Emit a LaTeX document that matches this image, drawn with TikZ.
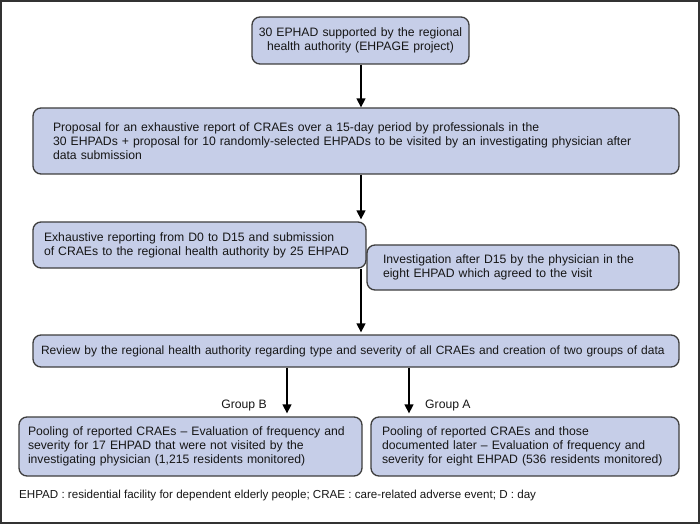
\documentclass[tikz,border=0pt]{standalone}
\usepackage{fontspec}
\setmainfont{Liberation Sans}
\usetikzlibrary{arrows.meta}
\definecolor{boxfill}{RGB}{198,206,232}
\definecolor{boxline}{RGB}{62,62,62}
\definecolor{txt}{RGB}{22,22,22}
\definecolor{framecol}{RGB}{50,50,50}
\begin{document}
\begin{tikzpicture}[x=1pt,y=-1pt,
  font=\fontsize{12.2}{14}\selectfont,
  box/.style={draw=boxline, line width=1.3pt, fill=boxfill, rounded corners=8pt,
    text=txt, inner ysep=0pt, anchor=center},
  arr/.style={draw=black, line width=1.4pt, -{Triangle[width=9pt,length=9pt]}},
  lab/.style={inner sep=0pt, text=txt}]
\useasboundingbox (0,0) rectangle (700,526);
\draw[framecol, line width=1.4pt] (1,1) rectangle (699,523);

\node[box, minimum width=217pt, minimum height=47pt, text width=205pt, inner xsep=6pt, align=center] (b1) at (360.5,40.5)
  {\mbox{30 EPHAD supported by the regional}\\\mbox{health authority (EHPAGE project)}};
\node[box, minimum width=646pt, minimum height=66pt, text width=606pt, inner xsep=20pt, align=left] (b2) at (356,141)
  {\mbox{Proposal for an exhaustive report of CRAEs over a 15-day period by professionals in the}\\\mbox{30 EHPADs + proposal for 10 randomly-selected EHPADs to be visited by an investigating physician after}\\\mbox{data submission}};
\node[box, minimum width=333pt, minimum height=46pt, text width=311pt, inner xsep=11pt, align=left] (b3) at (199.5,245)
  {\mbox{Exhaustive reporting from D0 to D15 and submission}\\\mbox{of CRAEs to the regional health authority by 25 EHPAD}};
\node[box, minimum width=312pt, minimum height=45pt, text width=280pt, inner xsep=16pt, align=left] (b4) at (523,267.5)
  {\mbox{Investigation after D15 by the physician in the}\\\mbox{eight EHPAD which agreed to the visit}};
\node[box, minimum width=646pt, minimum height=32pt, text width=630pt, inner xsep=8pt, align=left,
  font=\fontsize{12}{14}\selectfont] (b5) at (356,351)
  {\mbox{Review by the regional health authority regarding type and severity of all CRAEs and creation of two groups of data}};
\node[box, minimum width=343pt, minimum height=59pt, text width=325pt, inner xsep=9pt, align=left] (b6) at (190.5,446.5)
  {\mbox{Pooling of reported CRAEs – Evaluation of frequency and}\\\mbox{severity for 17 EHPAD that were not visited by the}\\\mbox{investigating physician (1,215 residents monitored)}};
\node[box, minimum width=308pt, minimum height=59pt, text width=286pt, inner xsep=11pt, align=left] (b7) at (525,446.5)
  {\mbox{Pooling of reported CRAEs and those}\\\mbox{documented later – Evaluation of frequency and}\\\mbox{severity for eight EHPAD (536 residents monitored)}};

\coordinate (cx) at (361,0);
\coordinate (gbx) at (287,0);
\coordinate (gax) at (409,0);
\draw[arr] (b1.south -| cx) -- (b2.north -| cx);
\draw[arr, shorten >=2pt] (b2.south -| cx) -- (b3.north -| cx);
\draw[arr, shorten >=2pt] (b3.south -| cx) -- (b5.north -| cx);
\draw[arr, shorten >=3pt] (b5.south -| gbx) -- (b6.north -| gbx);
\draw[arr, shorten >=3pt] (b5.south -| gax) -- (b7.north -| gax);

\node[lab, anchor=east] (gB) at (267,406) {Group B};
\node[lab, anchor=west] (gA) at (425,406) {Group A};

\node[lab, anchor=west, font=\fontsize{11.6}{13}\selectfont] (fn) at (19,495)
  {EHPAD : residential facility for dependent elderly people; CRAE : care-related adverse event; D : day};
\end{tikzpicture}
\end{document}
